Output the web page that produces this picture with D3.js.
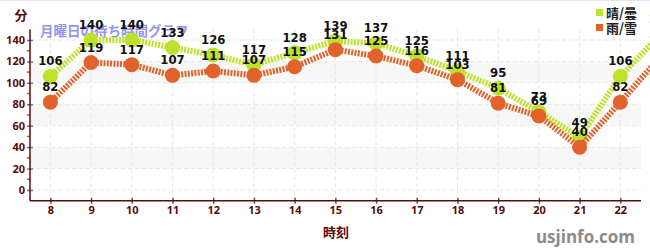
<!DOCTYPE html>
<html>
<head>
<meta charset="utf-8">
<script src="https://cdn.jsdelivr.net/npm/d3@7"></script>
<style>
	body { margin: 0; background: #fff; }
	svg { display: block; font-family: "Noto Sans CJK JP", "Noto Sans", sans-serif; }
</style>
</head>
<body>
<div id="chart-area"></div>
<script>
// SVG Size
let width = 650,
	height = 250;

// data
let hours = [8, 9, 10, 11, 12, 13, 14, 15, 16, 17, 18, 19, 20, 21, 22, 23];
let sunny = [106, 140, 140, 133, 126, 117, 128, 139, 137, 125, 111, 95, 73, 49, 106, 146];
let rainy = [82, 119, 117, 107, 111, 107, 115, 131, 125, 116, 103, 81, 69, 40, 82, 125];
let xTicks = [8, 9, 10, 11, 12, 13, 14, 15, 16, 17, 18, 19, 20, 21, 22];
let yTicks = [0, 20, 40, 60, 80, 100, 120, 140];
let seriesNames = ["晴/曇", "雨/雪"];
let seriesColors = ["#bde22a", "#e2622b"];

let axisColor = "#5c0a0a";

let svg = d3.select("#chart-area").append("svg")
	.attr("width", width)
	.attr("height", height);

// scales: 8 -> 50px, 22 -> 620px ; 0 -> 190px, 140 -> 40px
let XScale = d3.scaleLinear()
	.domain([7.5, 23.5])
	.range([30, 30 + 16 * 570 / 14]);
let YScale = d3.scaleLinear()
	.domain([-10, 150])
	.range([190 + 10 * 150 / 140, 190 - 150 * 150 / 140]);

let plotLeft = 30, plotRight = 641, plotTop = YScale(150), plotBottom = YScale(-10);

// top border
svg.append("line")
	.attr("x1", 0).attr("x2", width)
	.attr("y1", 0.5).attr("y2", 0.5)
	.attr("stroke", "#e4e4f6");

// bands
[[20, 40], [60, 80], [100, 120]].forEach(b => {
	svg.append("rect")
		.attr("x", plotLeft)
		.attr("width", plotRight - plotLeft)
		.attr("y", YScale(b[1]))
		.attr("height", YScale(b[0]) - YScale(b[1]))
		.attr("fill", "#f7f7f7");
});

// grid
svg.append("g").selectAll("line").data(xTicks).enter()
	.append("line")
	.attr("x1", d => XScale(d)).attr("x2", d => XScale(d))
	.attr("y1", plotTop).attr("y2", plotBottom)
	.attr("stroke", "#e6e6e6")
	.attr("stroke-dasharray", "4,3");

svg.append("g").selectAll("line").data(yTicks).enter()
	.append("line")
	.attr("x1", plotLeft).attr("x2", plotRight)
	.attr("y1", d => YScale(d)).attr("y2", d => YScale(d))
	.attr("stroke", "#e6e6e6")
	.attr("stroke-dasharray", "4,3");

// title
svg.append("text")
	.attr("x", 40)
	.attr("y", 36)
	.attr("fill", "#8a8af2")
	.attr("font-size", "13.5px")
	.attr("font-weight", "bold")
	.attr("opacity", 0.9)
	.text("月曜日の待ち時間グラフ");

// Y axis
let yAxis = d3.axisLeft(YScale)
	.tickValues(yTicks)
	.tickSize(6)
	.tickPadding(4);

let yG = svg.append("g")
	.attr("class", "axis y-axis")
	.attr("transform", "translate(" + plotLeft + ",0)")
	.call(yAxis);
yG.select(".domain").remove();
yG.selectAll(".tick line").attr("x1", 3).attr("x2", -3).attr("stroke", "#777").attr("stroke-width", 1.5);
yG.selectAll(".tick text")
	.attr("x", -5)
	.attr("fill", axisColor)
	.attr("font-size", "11px")
	.attr("font-weight", "bold")
	.attr("font-family", "'Noto Sans', sans-serif");

// minor ticks
svg.append("g").selectAll("line").data(d3.range(10, 150, 20)).enter()
	.append("line")
	.attr("x1", plotLeft - 3).attr("x2", plotLeft)
	.attr("y1", d => YScale(d)).attr("y2", d => YScale(d))
	.attr("stroke", "#ff3333")
	.attr("stroke-width", 1.5);

svg.append("line")
	.attr("x1", plotLeft).attr("x2", plotLeft)
	.attr("y1", plotTop).attr("y2", plotBottom)
	.attr("stroke", axisColor)
	.attr("stroke-width", 1.5);

// X axis
let xAxis = d3.axisBottom(XScale)
	.tickValues(xTicks)
	.tickSize(6)
	.tickPadding(6);

let xG = svg.append("g")
	.attr("class", "axis x-axis")
	.attr("transform", "translate(0," + plotBottom + ")")
	.call(xAxis);
xG.select(".domain").remove();
xG.selectAll(".tick line").attr("y1", -3).attr("y2", 3).attr("stroke", "#555").attr("stroke-width", 1.5);
xG.selectAll(".tick text")
	.attr("y", 5)
	.attr("fill", axisColor)
	.attr("font-size", "11px")
	.attr("font-weight", "bold")
	.attr("font-family", "'Noto Sans', sans-serif");

svg.append("line")
	.attr("x1", plotLeft).attr("x2", plotRight)
	.attr("y1", plotBottom).attr("y2", plotBottom)
	.attr("stroke", axisColor)
	.attr("stroke-width", 1.5);

// axis titles
svg.append("text")
	.attr("x", 21).attr("y", 20)
	.attr("text-anchor", "middle")
	.attr("fill", axisColor)
	.attr("font-size", "13px")
	.attr("font-weight", "bold")
	.text("分");

svg.append("text")
	.attr("x", 336).attr("y", 237)
	.attr("text-anchor", "middle")
	.attr("fill", axisColor)
	.attr("font-size", "13px")
	.attr("font-weight", "bold")
	.text("時刻");

// series
let series = [sunny, rainy];
let line = d3.line()
	.x((d, i) => XScale(hours[i]))
	.y(d => YScale(d));

series.forEach((vals, s) => {
	let g = svg.append("g");
	g.append("path")
		.datum(vals)
		.attr("d", line)
		.attr("fill", "none")
		.attr("stroke", seriesColors[s])
		.attr("stroke-width", 6)
		.attr("stroke-dasharray", "2,1.3");
	g.selectAll("circle").data(vals).enter()
		.append("circle")
		.attr("cx", (d, i) => XScale(hours[i]))
		.attr("cy", d => YScale(d))
		.attr("r", 7.5)
		.attr("fill", seriesColors[s]);
});

// labels
series.forEach((vals, s) => {
	svg.append("g").selectAll("text").data(vals).enter()
		.append("text")
		.attr("x", (d, i) => XScale(hours[i]))
		.attr("y", d => YScale(d) - 11)
		.attr("text-anchor", "middle")
		.attr("fill", "#111")
		.attr("font-size", "13px")
		.attr("font-weight", "bold")
		.attr("font-family", "'DejaVu Sans Condensed', 'DejaVu Sans', sans-serif")
		.text(d => d);
});

// legend
seriesNames.forEach((name, i) => {
	svg.append("rect")
		.attr("x", 596).attr("y", 9 + i * 15)
		.attr("width", 7).attr("height", 7)
		.attr("fill", seriesColors[i]);
	svg.append("text")
		.attr("x", 606).attr("y", 18 + i * 15)
		.attr("fill", "#222")
		.attr("font-size", "13px")
		.attr("font-weight", "bold")
		.text(name);
});

// watermark
svg.append("text")
	.attr("x", 635).attr("y", 243)
	.attr("text-anchor", "end")
	.attr("fill", "#8a8a8a")
	.attr("font-size", "17px")
	.attr("font-weight", "bold")
	.attr("font-family", "'Open Sans', sans-serif")
	.text("usjinfo.com");
</script>
</body>
</html>
